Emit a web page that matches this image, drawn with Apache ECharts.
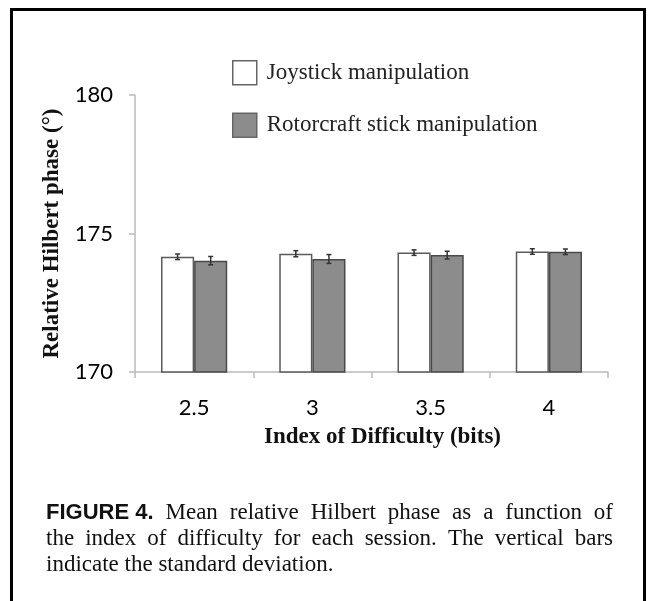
<!DOCTYPE html>
<html>
<head>
<meta charset="utf-8">
<script src="https://cdn.jsdelivr.net/npm/echarts@6/dist/echarts.min.js"></script>
<style>
  html, body { margin: 0; padding: 0; background: #fff; }
  #chart { width: 648px; height: 601px; }
</style>
</head>
<body>
<div id="chart"></div>
<script>
// data
var categories = ['2.5', '3', '3.5', '4'];
var joystick = [174.16, 174.27, 174.31, 174.35];
var joystickSd = [0.10, 0.11, 0.10, 0.10];
var rotorcraft = [174.02, 174.08, 174.22, 174.34];
var rotorcraftSd = [0.15, 0.16, 0.14, 0.10];
var yTicks = [170, 175, 180];

var captionLines = [
    {bold: 'FIGURE 4.', text: 'Mean relative Hilbert phase as a function of', justify: true},
    {bold: '', text: 'the index of difficulty for each session. The vertical bars', justify: true},
    {bold: '', text: 'indicate the standard deviation.', justify: false}
];

var serif = '"Liberation Serif", "DejaVu Serif", serif';
var sans = 'Lato, "Liberation Sans", sans-serif';
var capSans = '"Liberation Sans", Arial, sans-serif';

function errData(vals, sds) {
    return vals.map(function (v, i) { return [i, v, sds[i]]; });
}

function errRender(side) {
    return function (params, api) {
        var i = api.value(0), v = api.value(1), e = api.value(2);
        var band = api.size([1, 0])[0];
        var x = api.coord([i, v])[0] + side * band * 0.14;
        var top = api.coord([i, v + e])[1];
        var bot = api.coord([i, v - e])[1];
        var st = {stroke: '#333', lineWidth: 1.5};
        return {
            type: 'group',
            children: [
                {type: 'line', shape: {x1: x, y1: top, x2: x, y2: bot}, style: st},
                {type: 'line', shape: {x1: x - 2.5, y1: top, x2: x + 2.5, y2: top}, style: st},
                {type: 'line', shape: {x1: x - 2.5, y1: bot, x2: x + 2.5, y2: bot}, style: st}
            ]
        };
    };
}

// caption, justified by hand
var measureCtx = document.createElement('canvas').getContext('2d');
function textWidth(s, font) {
    measureCtx.font = font;
    return measureCtx.measureText(s).width;
}
function buildCaption() {
    var left = 46, right = 613, size = 23, lineH = 26, y0 = 513;
    var fSerif = size + 'px ' + serif;
    var fBold = 'bold ' + (size - 1) + 'px ' + capSans;
    var out = [];
    captionLines.forEach(function (ln, li) {
        var y = y0 + li * lineH;
        var words = [];
        if (ln.bold) words.push({t: ln.bold, bold: true});
        ln.text.split(' ').forEach(function (w) { words.push({t: w, bold: false}); });
        var widths = words.map(function (w) { return textWidth(w.t, w.bold ? fBold : fSerif); });
        var total = widths.reduce(function (a, b) { return a + b; }, 0);
        var gap = ln.justify ? (right - left - total) / (words.length - 1) : textWidth(' ', fSerif);
        var x = left;
        words.forEach(function (w, k) {
            out.push({
                type: 'text', x: x, y: y,
                style: {
                    text: w.t, fill: '#111',
                    font: w.bold ? fBold : fSerif,
                    verticalAlign: 'middle', align: 'left'
                }
            });
            x += widths[k] + gap;
        });
    });
    return out;
}

var chart = echarts.init(document.getElementById('chart'), null, {renderer: 'canvas'});

var option = {
    backgroundColor: '#fff',
    animation: false,
    grid: {left: 135, right: 40, top: 95, bottom: 229, containLabel: false},
    legend: {
        orient: 'vertical',
        left: 232, top: 60,
        itemWidth: 24, itemHeight: 24, itemGap: 27,
        padding: 0,
        icon: 'rect',
        textStyle: {fontFamily: serif, fontSize: 23, color: '#222', padding: [0, 0, 0, 5]},
        data: [
            {name: 'Joystick manipulation', itemStyle: {color: '#fff', borderColor: '#666', borderWidth: 1.5}},
            {name: 'Rotorcraft stick manipulation', itemStyle: {color: '#8c8c8c', borderColor: '#666', borderWidth: 1.5}}
        ]
    },
    xAxis: {
        type: 'category',
        data: categories,
        name: 'Index of Difficulty (bits)',
        nameLocation: 'middle',
        nameGap: 54,
        nameTextStyle: {fontFamily: serif, fontWeight: 'bold', fontSize: 23, color: '#111', padding: [0, 0, 0, 22]},
        axisLine: {lineStyle: {color: '#bbb', width: 1.5}},
        axisTick: {show: true, length: 6, lineStyle: {color: '#bbb', width: 1.5}},
        axisLabel: {fontFamily: sans, fontSize: 22, color: '#000', margin: 25}
    },
    yAxis: {
        type: 'value',
        min: yTicks[0], max: yTicks[yTicks.length - 1], interval: 5,
        name: 'Relative Hilbert phase (°)',
        nameLocation: 'middle',
        nameGap: 63,
        nameRotate: 90,
        nameTextStyle: {fontFamily: serif, fontWeight: 'bold', fontSize: 23, color: '#111'},
        axisLine: {show: true, lineStyle: {color: '#bbb', width: 1.5}},
        axisTick: {show: true, length: 6, lineStyle: {color: '#bbb', width: 1.5}},
        splitLine: {show: false},
        axisLabel: {fontFamily: sans, fontSize: 22, color: '#000', margin: 22}
    },
    series: [
        {
            name: 'Joystick manipulation', type: 'bar',
            data: joystick, barWidth: '28%', barGap: '0%',
            itemStyle: {color: '#fff', borderColor: '#5a5a5a', borderWidth: 1.5}
        },
        {
            name: 'Rotorcraft stick manipulation', type: 'bar',
            data: rotorcraft, barWidth: '28%', barGap: '0%',
            itemStyle: {color: '#8c8c8c', borderColor: '#4a4a4a', borderWidth: 1.5}
        },
        {
            type: 'custom', name: 'sd-j', z: 5,
            renderItem: errRender(-1), data: errData(joystick, joystickSd)
        },
        {
            type: 'custom', name: 'sd-r', z: 5,
            renderItem: errRender(1), data: errData(rotorcraft, rotorcraftSd)
        }
    ],
    graphic: [
        {
            type: 'rect', silent: true,
            shape: {x: 11.5, y: 9.5, width: 633, height: 700},
            style: {fill: 'none', stroke: '#000', lineWidth: 3}
        }
    ].concat(buildCaption())
};

chart.setOption(option);
</script>
</body>
</html>
